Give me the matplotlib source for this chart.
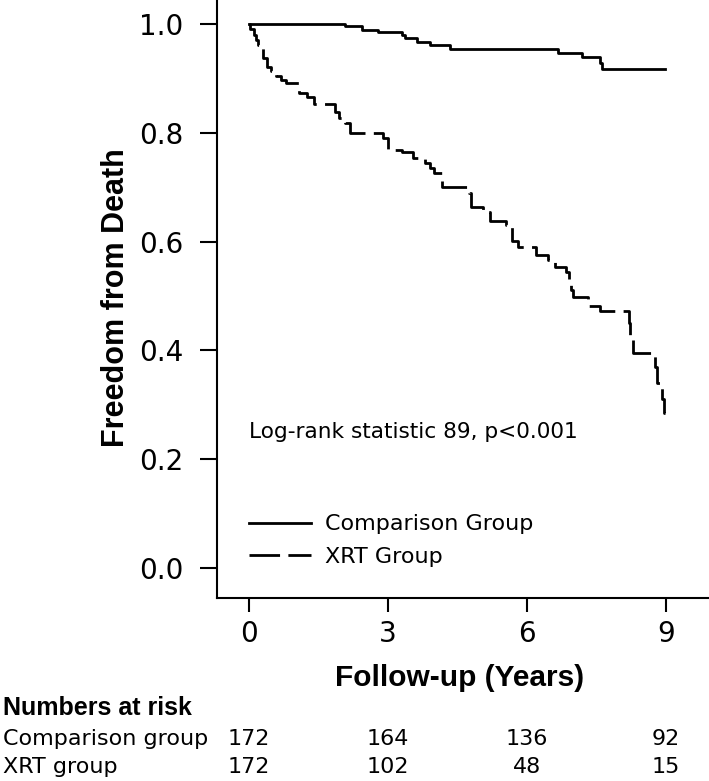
import matplotlib
matplotlib.use("Agg")
import matplotlib.pyplot as plt
import matplotlib.transforms as mtransforms

plt.rcParams['font.family'] = ['DejaVu Sans']
BOLD = ['Liberation Sans', 'DejaVu Sans']

# Kaplan-Meier steps (years, survival)
comp_t = [0.0, 2.07, 2.45, 2.79, 3.30, 3.36, 3.62, 3.91, 4.34, 6.68, 7.18, 7.58, 7.62, 8.98]
comp_s = [1.0, 0.997, 0.989, 0.985, 0.979, 0.974, 0.966, 0.961, 0.954, 0.946, 0.939, 0.928, 0.917, 0.917]

xrt_t = [0.0, 0.03, 0.10, 0.15, 0.20, 0.25, 0.30, 0.40, 0.48, 0.58, 0.70, 0.80, 1.08, 1.25,
         1.40, 1.85, 1.95, 2.07, 2.18, 2.90, 3.00, 3.30, 3.54, 3.80, 3.90, 4.00, 4.17, 4.75,
         4.80, 5.05, 5.20, 5.55, 5.67, 5.80, 6.20, 6.45, 6.60, 6.85, 6.90, 6.95, 7.00, 7.32,
         7.57, 8.20, 8.22, 8.29, 8.76, 8.80, 8.92, 8.96, 8.98]
xrt_s = [1.0, 0.99, 0.98, 0.97, 0.962, 0.955, 0.937, 0.921, 0.913, 0.905, 0.897, 0.892, 0.873, 0.865,
         0.853, 0.838, 0.828, 0.818, 0.80, 0.79, 0.768, 0.765, 0.754, 0.744, 0.735, 0.726, 0.70, 0.69,
         0.664, 0.655, 0.637, 0.630, 0.601, 0.59, 0.575, 0.566, 0.553, 0.545, 0.52, 0.511, 0.499, 0.481,
         0.472, 0.45, 0.425, 0.395, 0.37, 0.34, 0.31, 0.285, 0.285]

groups = ["Comparison Group", "XRT Group"]
risk_times = [0, 3, 6, 9]
risk_rows = ["Comparison group", "XRT group"]
risk_comp = [172, 164, 136, 92]
risk_xrt = [172, 102, 48, 15]

fig = plt.figure(figsize=(7.09, 7.81), dpi=100)
ax = fig.add_axes([217 / 709, 1 - 598 / 781, 492 / 709, 598 / 781])

ax.step(comp_t, comp_s, where='post', color='black', lw=2.0, label=groups[0])
ax.step(xrt_t, xrt_s, where='post', color='black', lw=2.0,
        linestyle=(0, (11, 3)), label=groups[1])

ax.set_xlim(-0.69, 9.93)
ax.set_ylim(-0.055, 1.044)
ax.set_xticks(risk_times)
ax.set_yticks([0.0, 0.2, 0.4, 0.6, 0.8, 1.0])
ax.set_yticklabels(["0.0", "0.2", "0.4", "0.6", "0.8", "1.0"])
for side in ['top', 'right']:
    ax.spines[side].set_visible(False)
for side in ['left', 'bottom']:
    ax.spines[side].set_linewidth(1.5)
ax.tick_params(axis='both', direction='out', width=1.5, labelsize=20)
ax.tick_params(axis='y', length=12, pad=12)
ax.tick_params(axis='x', length=10, pad=6)

ax.set_xlabel("Follow-up (Years)", fontsize=21.5, fontweight='bold', family=BOLD)
ax.xaxis.set_label_coords(0.492, -0.11)
ax.set_ylabel("Freedom from Death", fontsize=22, fontweight='bold', family=BOLD)
ax.yaxis.set_label_coords(-0.174, 0.503)

ax.text(0, 0.239, "Log-rank statistic 89, p<0.001", fontsize=15.6, va='baseline', ha='left')

leg = ax.legend(loc='lower left', bbox_to_anchor=(0.047, 0.037), frameon=False,
                fontsize=16, handlelength=2.8, handletextpad=0.63, labelspacing=0.57,
                borderaxespad=0)

# numbers at risk table
trans = mtransforms.blended_transform_factory(ax.transData, fig.transFigure)
fig.text(3 / 709, 1 - 715 / 781, "Numbers at risk", fontsize=18, fontweight='bold',
         family=BOLD, va='baseline')
rows = [risk_comp, risk_xrt]
for r, (name, vals) in enumerate(zip(risk_rows, rows)):
    yb = 1 - (745 + 28 * r) / 781
    fig.text(3 / 709, yb, name, fontsize=16, va='baseline')
    for t, v in zip(risk_times, vals):
        ax.text(t, yb, str(v), transform=trans, fontsize=16, va='baseline', ha='center')

fig.savefig("out.png", dpi=100)
